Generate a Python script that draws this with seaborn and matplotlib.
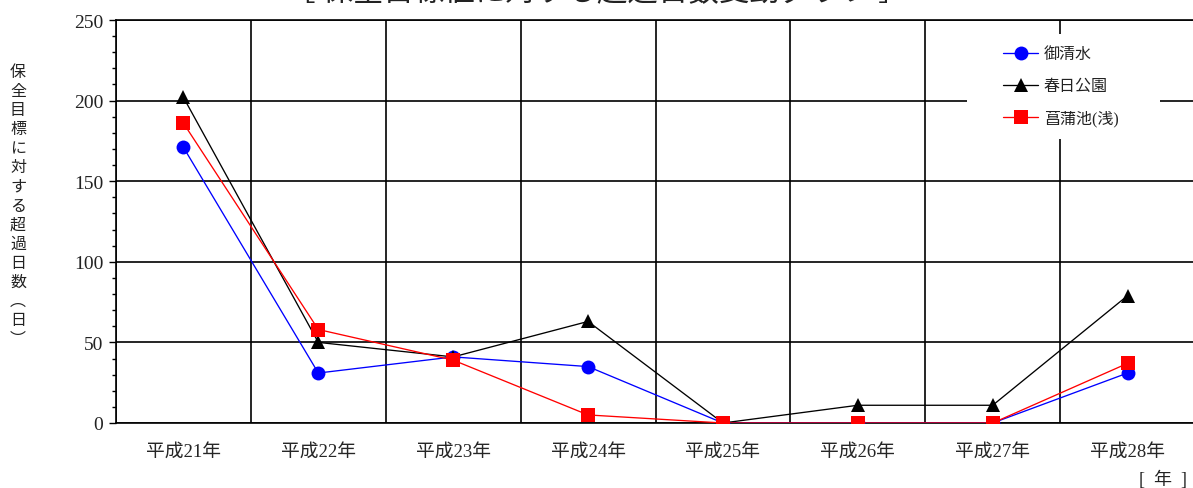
import matplotlib
matplotlib.use('Agg')
import matplotlib.pyplot as plt
from matplotlib.ticker import MultipleLocator, FixedLocator
from matplotlib.patches import Rectangle
import seaborn as sns
import pandas as pd

# data
years = ['平成21年', '平成22年', '平成23年', '平成24年',
         '平成25年', '平成26年', '平成27年', '平成28年']
mishimizu = [171, 31, 41, 35, 0, 0, 0, 31]
kasuga = [202, 50, 41, 63, 0, 11, 11, 79]
shobu = [186, 58, 39, 5, 0, 0, 0, 37]
series_names = ['御清水', '春日公園', '菖蒲池(浅)']

df = pd.DataFrame({
    '年': years * 3,
    '日数': mishimizu + kasuga + shobu,
    '地点': [series_names[0]] * 8 + [series_names[1]] * 8 + [series_names[2]] * 8,
})

sns.set_theme(style='white')
plt.rcParams['font.family'] = ['Liberation Serif', 'Noto Sans CJK JP']

fig = plt.figure(figsize=(11.93, 4.89), dpi=100)
ax = fig.add_axes([116 / 1193, 1 - 424 / 489, (1195 - 116) / 1193, 403 / 489])

sns.lineplot(data=df, x='年', y='日数', hue='地点', style='地点',
             palette={'御清水': 'blue', '春日公園': 'black', '菖蒲池(浅)': 'red'},
             markers={'御清水': 'o', '春日公園': '^', '菖蒲池(浅)': 's'},
             dashes=False, linewidth=0.95, markersize=10, markeredgewidth=0,
             ax=ax, zorder=3)

ax.set_xlim(-0.5, 7.5)
ax.set_ylim(0, 250)
ax.set_xlabel('')
ax.set_ylabel('')

# x ticks: labels at categories, tick marks and grid at boundaries
ax.set_xticks(range(len(years)))
ax.set_xticklabels(years, fontsize=13.5)
ax.xaxis.set_minor_locator(FixedLocator([i - 0.5 for i in range(len(years) + 1)]))
ax.tick_params(axis='x', which='major', length=0, pad=14)
ax.tick_params(axis='x', which='minor', length=5, width=1, color='black', direction='inout')

ax.yaxis.set_major_locator(MultipleLocator(50))
ax.yaxis.set_minor_locator(MultipleLocator(10))
ax.tick_params(axis='y', which='major', length=5, width=1, color='black', labelsize=14,
               left=True, pad=4)
ax.tick_params(axis='y', which='minor', length=3, width=1, color='black', left=True)
for lbl in ax.get_yticklabels():
    lbl.set_fontfamily(['Liberation Serif'])
    lbl.set_color('#222222')

ax.grid(True, axis='y', which='major', color='black', linewidth=1.2)
ax.grid(True, axis='x', which='minor', color='black', linewidth=1.2)
ax.grid(False, axis='x', which='major')

for s in ['left', 'bottom', 'top']:
    ax.spines[s].set_color('black')
    ax.spines[s].set_linewidth(1.2)
ax.spines['right'].set_visible(False)

# white box behind the legend, covering the grid
ax.add_patch(Rectangle((0.7887, 0.7047), 0.1789, 0.2605, transform=ax.transAxes,
                       facecolor='white', edgecolor='none', zorder=2.5))

leg = ax.legend(loc='upper left', bbox_to_anchor=(0.8221, 0.935), borderaxespad=0,
                frameon=False, fontsize=11.5, handlelength=2.2, labelspacing=1.0,
                borderpad=0, handletextpad=0.35)
leg.set_zorder(5)
for t in leg.get_texts():
    t.set_color('#222222')

# vertical y label, stacked characters
ylabel = '保全目標に対する超過日数︵日︶'
fig.text(18 / 1193, 1 - 206 / 489, '\n'.join(ylabel), ha='center', va='center',
         fontsize=11.5, linespacing=1.16, color='#222222', family=['Noto Sans CJK JP'])

fig.text(1163 / 1193, 1 - 480 / 489, '[  年  ]', ha='center', va='center',
         fontsize=13, color='#222222', family=['Liberation Serif', 'Noto Sans CJK JP'])

# title, cut off at the top of the picture as in the reference
fig.text(597 / 1193, 1 - 8 / 489, '［ 保全目標値に対する超過日数変動グラフ ］', ha='center',
         va='bottom', fontsize=22, color='#222222', family=['Noto Sans CJK JP'])

fig.savefig('out.png', dpi=100)
